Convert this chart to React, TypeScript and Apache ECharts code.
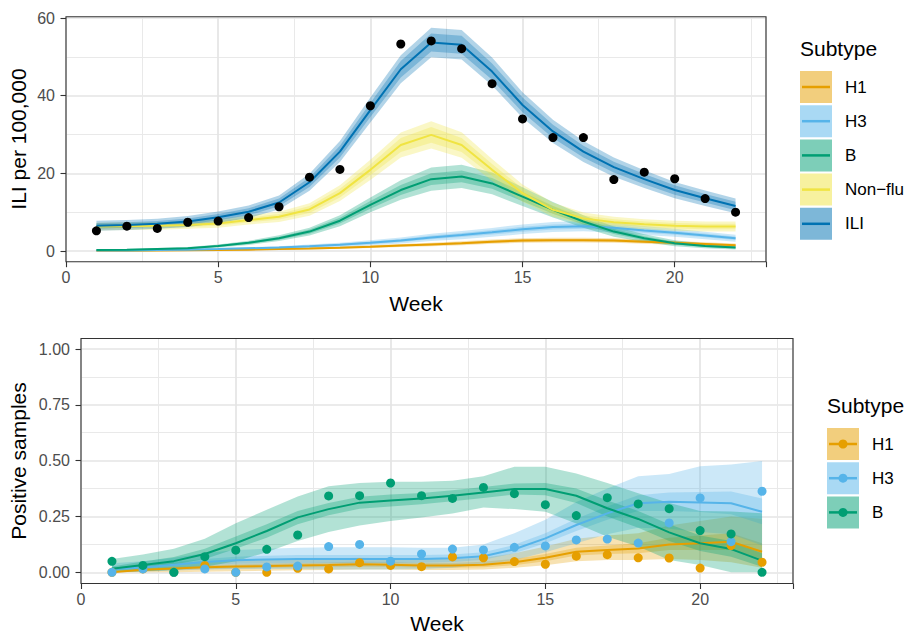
import React, { useEffect, useRef } from "react";
import * as echarts from "echarts";

// ---------- DATA ----------
const weeks = [1, 2, 3, 4, 5, 6, 7, 8, 9, 10, 11, 12, 13, 14, 15, 16, 17, 18, 19, 20, 21, 22];
const subtypesTop = ["H1", "H3", "B", "Non\u2212flu", "ILI"];
const subtypesBottom = ["H1", "H3", "B"];
const xTicks = [0, 5, 10, 15, 20];

// Top panel: ILI per 100,000
const iliObserved = [5.2, 6.4, 5.8, 7.4, 7.7, 8.6, 11.4, 19.0, 21.0, 37.4, 53.3, 54.1, 52.1, 43.1, 34.0, 29.2, 29.2, 18.4, 20.3, 18.6, 13.5, 10.0];
const iliMean = [6.5, 6.7, 7.0, 7.6, 8.7, 10.1, 12.5, 17.7, 25.6, 36.3, 46.8, 53.7, 53.1, 46.2, 37.6, 30.8, 25.6, 21.6, 18.5, 15.7, 13.6, 11.6];
const iliOuter = [1.3, 1.3, 1.3, 1.4, 1.5, 1.6, 1.8, 2.2, 2.7, 3.2, 3.6, 3.8, 3.8, 3.6, 3.3, 3.0, 2.7, 2.5, 2.3, 2.1, 2.0, 1.9];
const iliInner = [0.7, 0.7, 0.7, 0.8, 0.8, 0.9, 1.0, 1.2, 1.5, 1.8, 2.1, 2.3, 2.3, 2.1, 1.9, 1.7, 1.5, 1.4, 1.3, 1.2, 1.1, 1.1];
const nonfluMean = [6.3, 6.4, 6.5, 6.7, 7.1, 8.0, 8.8, 10.7, 14.9, 20.9, 27.3, 29.9, 27.3, 20.9, 14.9, 10.6, 8.4, 7.4, 6.9, 6.5, 6.3, 6.3];
const nonfluOuter = [1.0, 1.0, 1.0, 1.0, 1.1, 1.2, 1.3, 1.6, 2.0, 2.6, 3.2, 3.5, 3.3, 2.8, 2.2, 1.8, 1.5, 1.4, 1.3, 1.3, 1.3, 1.3];
const nonfluInner = [0.5, 0.5, 0.5, 0.5, 0.6, 0.6, 0.7, 0.9, 1.1, 1.4, 1.8, 2.0, 1.8, 1.5, 1.2, 1.0, 0.8, 0.8, 0.7, 0.7, 0.7, 0.7];
const bMean = [0.26, 0.3, 0.5, 0.7, 1.3, 2.1, 3.3, 5.0, 7.8, 11.9, 15.7, 18.5, 19.2, 17.4, 14.0, 10.6, 7.6, 5.0, 3.3, 2.0, 1.3, 0.9];
const bOuter = [0.15, 0.2, 0.25, 0.3, 0.4, 0.55, 0.75, 1.0, 1.4, 1.9, 2.5, 3.0, 3.0, 2.8, 2.4, 2.0, 1.6, 1.3, 1.0, 0.8, 0.6, 0.5];
const bInner = [0.08, 0.1, 0.12, 0.15, 0.2, 0.3, 0.4, 0.55, 0.75, 1.0, 1.3, 1.5, 1.5, 1.4, 1.2, 1.0, 0.8, 0.65, 0.5, 0.4, 0.3, 0.25];
const h3Mean = [0.1, 0.15, 0.25, 0.35, 0.5, 0.7, 0.9, 1.2, 1.6, 2.1, 2.7, 3.5, 4.1, 4.8, 5.6, 6.2, 6.4, 6.0, 5.3, 4.7, 4.0, 3.3];
const h3Outer = [0.1, 0.1, 0.15, 0.2, 0.25, 0.3, 0.35, 0.45, 0.55, 0.65, 0.8, 0.95, 1.05, 1.15, 1.25, 1.3, 1.3, 1.25, 1.15, 1.05, 0.95, 0.9];
const h3Inner = [0.05, 0.05, 0.08, 0.1, 0.12, 0.15, 0.18, 0.22, 0.28, 0.33, 0.4, 0.48, 0.52, 0.58, 0.62, 0.65, 0.65, 0.62, 0.58, 0.52, 0.48, 0.45];
const h1Mean = [0.05, 0.08, 0.12, 0.18, 0.25, 0.35, 0.5, 0.65, 0.85, 1.1, 1.4, 1.7, 2.0, 2.4, 2.7, 2.8, 2.8, 2.7, 2.4, 2.1, 1.8, 1.5];
const h1Outer = [0.05, 0.05, 0.07, 0.1, 0.12, 0.15, 0.2, 0.25, 0.3, 0.35, 0.4, 0.45, 0.5, 0.55, 0.6, 0.62, 0.62, 0.6, 0.55, 0.5, 0.45, 0.4];
const h1Inner = [0.03, 0.03, 0.04, 0.05, 0.06, 0.08, 0.1, 0.12, 0.15, 0.18, 0.2, 0.22, 0.25, 0.28, 0.3, 0.31, 0.31, 0.3, 0.28, 0.25, 0.22, 0.2];

// Bottom panel: positive samples
const h1Pos = [0.0, 0.015, 0.0, 0.031, 0.0, 0.0, 0.018, 0.015, 0.043, 0.031, 0.025, 0.069, 0.065, 0.048, 0.036, 0.072, 0.079, 0.065, 0.064, 0.019, 0.12, 0.045];
const h3Pos = [0.0, 0.015, 0.0, 0.015, 0.0, 0.024, 0.028, 0.115, 0.125, 0.05, 0.082, 0.104, 0.1, 0.112, 0.118, 0.145, 0.149, 0.131, 0.221, 0.333, 0.137, 0.363];
const bPos = [0.049, 0.031, 0.0, 0.07, 0.099, 0.103, 0.167, 0.342, 0.343, 0.4, 0.343, 0.331, 0.38, 0.352, 0.303, 0.254, 0.334, 0.306, 0.285, 0.187, 0.172, 0.0];

const h1Fit = [0.0, 0.011, 0.017, 0.023, 0.026, 0.028, 0.031, 0.033, 0.036, 0.034, 0.03, 0.03, 0.034, 0.045, 0.065, 0.092, 0.1, 0.107, 0.125, 0.13, 0.137, 0.092];
const h1Lo95 = [0.0, 0.0, 0.0, 0.002, 0.005, 0.007, 0.009, 0.01, 0.012, 0.012, 0.01, 0.01, 0.012, 0.02, 0.032, 0.05, 0.055, 0.055, 0.06, 0.055, 0.045, 0.02];
const h1Hi95 = [0.01, 0.03, 0.04, 0.05, 0.055, 0.058, 0.06, 0.062, 0.065, 0.062, 0.058, 0.058, 0.065, 0.085, 0.115, 0.15, 0.165, 0.175, 0.21, 0.23, 0.25, 0.24];
const h1Lo50 = [0.0, 0.005, 0.01, 0.014, 0.017, 0.019, 0.021, 0.023, 0.025, 0.024, 0.02, 0.02, 0.023, 0.032, 0.05, 0.075, 0.082, 0.085, 0.1, 0.1, 0.1, 0.06];
const h1Hi50 = [0.005, 0.018, 0.025, 0.032, 0.035, 0.038, 0.041, 0.044, 0.048, 0.046, 0.042, 0.042, 0.047, 0.06, 0.082, 0.11, 0.12, 0.13, 0.155, 0.165, 0.175, 0.13];

const h3Fit = [0.015, 0.021, 0.034, 0.046, 0.054, 0.057, 0.06, 0.06, 0.06, 0.06, 0.06, 0.063, 0.072, 0.103, 0.152, 0.212, 0.264, 0.309, 0.316, 0.313, 0.309, 0.271];
const h3Lo95 = [0.0, 0.002, 0.008, 0.012, 0.015, 0.015, 0.015, 0.013, 0.012, 0.012, 0.015, 0.02, 0.035, 0.055, 0.09, 0.13, 0.17, 0.2, 0.195, 0.18, 0.17, 0.12];
const h3Hi95 = [0.04, 0.05, 0.065, 0.085, 0.1, 0.105, 0.11, 0.112, 0.112, 0.112, 0.11, 0.11, 0.125, 0.175, 0.235, 0.315, 0.375, 0.43, 0.44, 0.475, 0.483, 0.498];
const h3Lo50 = [0.008, 0.012, 0.022, 0.032, 0.038, 0.04, 0.042, 0.042, 0.042, 0.042, 0.043, 0.046, 0.056, 0.085, 0.13, 0.185, 0.235, 0.275, 0.275, 0.27, 0.26, 0.215];
const h3Hi50 = [0.022, 0.03, 0.046, 0.06, 0.07, 0.074, 0.078, 0.078, 0.078, 0.078, 0.078, 0.08, 0.09, 0.123, 0.175, 0.24, 0.295, 0.345, 0.357, 0.36, 0.362, 0.33];

const bFit = [0.016, 0.033, 0.05, 0.082, 0.13, 0.185, 0.246, 0.283, 0.312, 0.322, 0.33, 0.343, 0.357, 0.373, 0.373, 0.343, 0.287, 0.239, 0.179, 0.13, 0.104, 0.052];
const bLo95 = [0.0, 0.005, 0.01, 0.025, 0.05, 0.09, 0.14, 0.18, 0.21, 0.23, 0.245, 0.263, 0.29, 0.283, 0.271, 0.219, 0.159, 0.115, 0.055, 0.033, 0.0, 0.0];
const bHi95 = [0.06, 0.08, 0.105, 0.15, 0.22, 0.28, 0.34, 0.385, 0.4, 0.405, 0.405, 0.41, 0.43, 0.473, 0.473, 0.443, 0.4, 0.354, 0.31, 0.275, 0.272, 0.265];
const bLo50 = [0.008, 0.02, 0.035, 0.06, 0.105, 0.155, 0.215, 0.255, 0.285, 0.295, 0.305, 0.318, 0.333, 0.348, 0.345, 0.31, 0.25, 0.2, 0.14, 0.095, 0.07, 0.025];
const bHi50 = [0.026, 0.048, 0.068, 0.105, 0.16, 0.215, 0.275, 0.31, 0.338, 0.348, 0.355, 0.368, 0.382, 0.398, 0.4, 0.375, 0.322, 0.275, 0.215, 0.165, 0.14, 0.085];

// ---------- STYLE ----------
const COLORS: Record<string, string> = {
  H1: "#E69F00",
  H3: "#56B4E9",
  B: "#009E73",
  "Non\u2212flu": "#F0E442",
  ILI: "#0072B2",
};
const FONT = "'Liberation Sans', Arial, Helvetica, sans-serif";
const TOP_FRAME = { left: 66, top: 16.7, width: 700, height: 245 };
const TOP_DATA = { left: 66, top: 18, width: 700, height: 233 };
const BOT_FRAME = { left: 81, top: 338.5, width: 712, height: 245 };
const BOT_DATA = { left: 81, top: 349, width: 712, height: 223.3 };

function rgba(hex: string, a: number) {
  const r = parseInt(hex.slice(1, 3), 16);
  const g = parseInt(hex.slice(3, 5), 16);
  const b = parseInt(hex.slice(5, 7), 16);
  return `rgba(${r},${g},${b},${a})`;
}

function bandSeries(lo: number[], hi: number[], color: string, axis: number) {
  return {
    type: "custom",
    xAxisIndex: axis,
    yAxisIndex: axis,
    silent: true,
    z: 1,
    clip: false,
    data: weeks.map((w, i) => [w, lo[i], hi[i]]),
    renderItem: (params: any, api: any) => {
      if (params.dataIndex !== 0) return null;
      const top = weeks.map((w, i) => api.coord([w, hi[i]]));
      const bot = weeks.map((w, i) => api.coord([w, lo[i]])).reverse();
      return {
        type: "polygon",
        shape: { points: top.concat(bot) },
        style: { fill: rgba(color, 0.3), stroke: null },
      };
    },
  };
}

function symBands(mean: number[], width: number[], color: string, axis: number) {
  const lo = mean.map((m, i) => m - width[i]);
  const hi = mean.map((m, i) => m + width[i]);
  return bandSeries(lo, hi, color, axis);
}

function lineSeries(vals: number[], color: string, axis: number) {
  return {
    type: "line",
    xAxisIndex: axis,
    yAxisIndex: axis,
    data: weeks.map((w, i) => [w, vals[i]]),
    symbol: "none",
    clip: false,
    z: 2,
    lineStyle: { color, width: 2 },
    silent: true,
  };
}

function pointSeries(vals: number[], color: string, axis: number) {
  return {
    type: "scatter",
    xAxisIndex: axis,
    yAxisIndex: axis,
    data: weeks.map((w, i) => [w, vals[i]]),
    symbolSize: 9,
    clip: false,
    z: 3,
    itemStyle: { color, opacity: 1 },
    silent: true,
  };
}

const gridLine = { lineStyle: { color: "#E4E4E4", width: 1.7 } };
const minorLine = { show: true, lineStyle: { color: "#E9E9E9", width: 1 } };
const tickStyle = { show: true, length: 5.5, lineStyle: { color: "#333333", width: 1.1 } };
const labelStyle = { color: "#4D4D4D", fontSize: 16, fontFamily: FONT };

function visibleX(grid: number) {
  return {
    type: "value",
    gridIndex: grid,
    min: 0,
    max: 23,
    interval: 5,
    axisLine: { show: false },
    axisTick: tickStyle,
    axisLabel: { ...labelStyle, margin: 8, customValues: xTicks },
    splitLine: gridLine,
    minorTick: { show: false, splitNumber: 2 },
    minorSplitLine: minorLine,
  };
}
function hiddenX(grid: number) {
  return { type: "value", gridIndex: grid, min: 0, max: 23, show: false };
}
function hiddenY(grid: number) {
  return { type: "value", gridIndex: grid, min: 0, max: 1, show: false };
}

function legendBlock(x: number, y0: number, title: string, items: string[], withPoint: boolean, labelX: number) {
  const els: any[] = [
    {
      type: "text",
      x,
      y: y0,
      style: { text: title, fontSize: 21, fontFamily: FONT, fill: "#000", verticalAlign: "middle" },
    },
  ];
  items.forEach((name, i) => {
    const ky = y0 + 23 + i * 34.2;
    const c = COLORS[name];
    els.push({ type: "rect", shape: { x: x, y: ky, width: 32, height: 32 }, style: { fill: rgba(c, 0.51) } });
    els.push({
      type: "line",
      shape: { x1: x + 2, y1: ky + 16, x2: x + 30, y2: ky + 16 },
      style: { stroke: c, lineWidth: 2.5 },
    });
    if (withPoint) {
      els.push({ type: "circle", shape: { cx: x + 16, cy: ky + 16, r: 4.5 }, style: { fill: c } });
    }
    els.push({
      type: "text",
      x: labelX,
      y: ky + 16,
      style: { text: name, fontSize: 17, fontFamily: FONT, fill: "#000", verticalAlign: "middle" },
    });
  });
  return els;
}

export default function App() {
  const ref = useRef<HTMLDivElement>(null);
  useEffect(() => {
    if (!ref.current) return;
    const chart = echarts.init(ref.current, undefined, { renderer: "svg" });

    const series: any[] = [
      // top bands
      symBands(h1Mean, h1Outer, COLORS.H1, 1),
      symBands(h1Mean, h1Inner, COLORS.H1, 1),
      symBands(h3Mean, h3Outer, COLORS.H3, 1),
      symBands(h3Mean, h3Inner, COLORS.H3, 1),
      symBands(bMean, bOuter, COLORS.B, 1),
      symBands(bMean, bInner, COLORS.B, 1),
      symBands(nonfluMean, nonfluOuter, COLORS["Non\u2212flu"], 1),
      symBands(nonfluMean, nonfluInner, COLORS["Non\u2212flu"], 1),
      symBands(iliMean, iliOuter, COLORS.ILI, 1),
      symBands(iliMean, iliInner, COLORS.ILI, 1),
      lineSeries(h1Mean, COLORS.H1, 1),
      lineSeries(h3Mean, COLORS.H3, 1),
      lineSeries(bMean, COLORS.B, 1),
      lineSeries(nonfluMean, COLORS["Non\u2212flu"], 1),
      lineSeries(iliMean, COLORS.ILI, 1),
      pointSeries(iliObserved, "#000000", 1),
      // bottom bands
      bandSeries(h1Lo95, h1Hi95, COLORS.H1, 3),
      bandSeries(h1Lo50, h1Hi50, COLORS.H1, 3),
      bandSeries(h3Lo95, h3Hi95, COLORS.H3, 3),
      bandSeries(h3Lo50, h3Hi50, COLORS.H3, 3),
      bandSeries(bLo95, bHi95, COLORS.B, 3),
      bandSeries(bLo50, bHi50, COLORS.B, 3),
      lineSeries(h1Fit, COLORS.H1, 3),
      lineSeries(h3Fit, COLORS.H3, 3),
      lineSeries(bFit, COLORS.B, 3),
      pointSeries(h1Pos, COLORS.H1, 3),
      pointSeries(h3Pos, COLORS.H3, 3),
      pointSeries(bPos, COLORS.B, 3),
    ];

    const frameRect = (f: any) => ({
      type: "rect",
      z: 100,
      silent: true,
      shape: { x: f.left, y: f.top, width: f.width, height: f.height },
      style: { fill: "none", stroke: "#333333", lineWidth: 1.1 },
    });

    const titleStyle = { fontSize: 21, fontFamily: FONT, fill: "#000", align: "center", verticalAlign: "middle" };

    const option: any = {
      animation: false,
      backgroundColor: "#ffffff",
      grid: [TOP_FRAME, TOP_DATA, BOT_FRAME, BOT_DATA].map((g) => ({
        ...g,
        containLabel: false,
        outerBoundsMode: "none",
      })),
      xAxis: [visibleX(0), hiddenX(1), visibleX(2), hiddenX(3)],
      yAxis: [
        hiddenY(0),
        {
          type: "value",
          gridIndex: 1,
          min: 0,
          max: 60,
          interval: 20,
          axisLine: { show: false },
          axisTick: tickStyle,
          axisLabel: { ...labelStyle, margin: 11 },
          splitLine: gridLine,
          minorTick: { show: false, splitNumber: 2 },
          minorSplitLine: minorLine,
        },
        hiddenY(2),
        {
          type: "value",
          gridIndex: 3,
          min: 0,
          max: 1,
          interval: 0.25,
          axisLine: { show: false },
          axisTick: tickStyle,
          axisLabel: { ...labelStyle, margin: 11, formatter: (v: number) => v.toFixed(2) },
          splitLine: gridLine,
          minorTick: { show: false, splitNumber: 2 },
          minorSplitLine: minorLine,
        },
      ],
      series,
      graphic: [
        frameRect(TOP_FRAME),
        frameRect(BOT_FRAME),
        { type: "text", x: 416, y: 303, style: { ...titleStyle, text: "Week" } },
        { type: "text", x: 437, y: 623, style: { ...titleStyle, text: "Week" } },
        { type: "text", x: 18, y: 139, rotation: Math.PI / 2, style: { ...titleStyle, text: "ILI per 100,000" } },
        { type: "text", x: 18, y: 461, rotation: Math.PI / 2, style: { ...titleStyle, text: "Positive samples" } },
        ...legendBlock(800, 48, "Subtype", subtypesTop, false, 845),
        ...legendBlock(827, 405, "Subtype", subtypesBottom, true, 872),
      ],
    };
    chart.setOption(option);
    return () => chart.dispose();
  }, []);
  return (
    <div
      ref={ref}
      style={{ position: "absolute", left: 0, top: 0, width: 904, height: 635 }}
    />
  );
}
